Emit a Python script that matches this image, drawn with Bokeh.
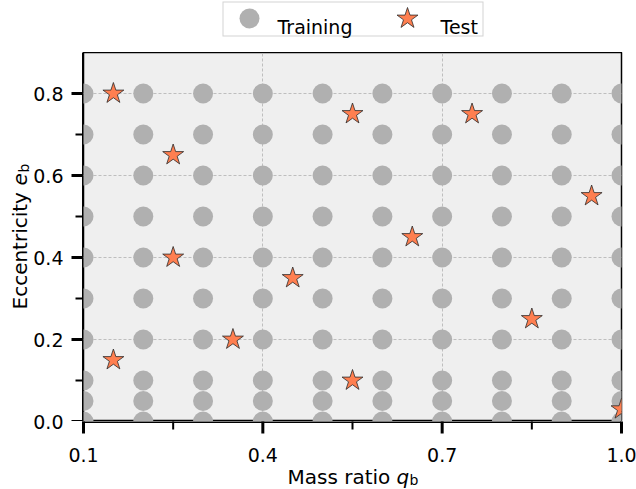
import math
from bokeh.plotting import figure
from bokeh.models import (FixedTicker, Range1d, Label, Grid, ColumnDataSource)
from bokeh.core.properties import value
from bokeh.layouts import column, row
from bokeh.embed import file_html
from bokeh.resources import INLINE

# ---- data ----
q_grid = [0.1, 0.2, 0.3, 0.4, 0.5, 0.6, 0.7, 0.8, 0.9, 1.0]
e_grid = [0.0, 0.05, 0.1, 0.2, 0.3, 0.4, 0.5, 0.6, 0.7, 0.8]

test_q = [0.15, 0.25, 0.25, 0.15, 0.35, 0.45, 0.55, 0.55, 0.65, 0.75, 0.85, 0.95, 1.0]
test_e = [0.80, 0.65, 0.40, 0.15, 0.20, 0.35, 0.75, 0.10, 0.45, 0.75, 0.25, 0.55, 0.03]

x_ticks = [0.1, 0.4, 0.7, 1.0]
x_minor = [0.25, 0.55, 0.85]
x_tick_labels = ["0.1", "0.4", "0.7", "1.0"]
y_ticks = [0.0, 0.2, 0.4, 0.6, 0.8]
y_minor = [0.1, 0.3, 0.5, 0.7]
y_tick_labels = ["0.0", "0.2", "0.4", "0.6", "0.8"]

series_names = ["Training", "Test"]
x_range_lim = (0.1, 1.0)
y_range_lim = (0.0, 0.9)

train_q = [q for q in q_grid for e in e_grid]
train_e = [e for q in q_grid for e in e_grid]

# ---- layout constants (pixels) ----
W, H = 636, 489
FL, FR, FT, FB = 83, 621, 52, 421      # plot frame edges
LW = 66                                # width of y-label strip
FONT = "DejaVu Sans"
TRAIN_STYLE = dict(marker="circle", size=20, fill_color="#b0b0b0", line_color=None)
TEST_STYLE = dict(marker="star", size=22, fill_color="#ff7f50",
                  line_color="#2b2b2b", line_width=0.8)

kq = (x_range_lim[1] - x_range_lim[0]) / (FR - FL)
ke = (y_range_lim[1] - y_range_lim[0]) / (FB - FT)


def drop_grids(f):
    f.center = [r for r in f.center if not isinstance(r, Grid)]


def blank(w, h, x_range=None, y_range=None):
    f = figure(width=w, height=h, output_backend="svg", toolbar_location=None,
               title=None,
               x_range=x_range or Range1d(0, w), y_range=y_range or Range1d(0, h),
               x_axis_location=None, y_axis_location=None, min_border=0)
    drop_grids(f)
    f.outline_line_color = None
    f.background_fill_color = "white"
    f.border_fill_color = "white"
    return f


def lab(f, x, y, text, size, style="normal", angle=0.0):
    f.add_layout(Label(x=x, y=y, text=text, text_font=FONT, text_font_size=size,
                       text_font_style=style, text_color="black",
                       text_align="left", text_baseline="alphabetic",
                       angle=angle))


# ---- main plot (frame only) ----
p = figure(width=W - FL, height=FB - FT, title=None,
           output_backend="svg", toolbar_location=None,
           x_range=Range1d(*x_range_lim), y_range=Range1d(*y_range_lim),
           x_axis_location=None, y_axis_location=None,
           min_border_left=0, min_border_top=0, min_border_bottom=0,
           min_border_right=W - FR)
drop_grids(p)
p.border_fill_color = "white"
p.background_fill_color = "#efefef"
p.outline_line_color = "black"
p.outline_line_width = 1.5
for dim, ticks in ((0, x_ticks), (1, y_ticks)):
    p.add_layout(Grid(dimension=dim, ticker=FixedTicker(ticks=ticks),
                      grid_line_color="#b8b8b8", grid_line_dash="3 2",
                      grid_line_width=0.9))

train_src = ColumnDataSource(dict(q=train_q, e=train_e))
test_src = ColumnDataSource(dict(q=test_q, e=test_e))
p.scatter("q", "e", source=train_src, **TRAIN_STYLE)
p.scatter("q", "e", source=test_src, **TEST_STYLE)

# ---- y tick strip (between labels and frame) ----
tw = FL - LW
tstrip = blank(tw, FB - FT, x_range=Range1d(0, tw), y_range=p.y_range)
tstrip.scatter(x=tw - 6, y=y_ticks, marker="dash", size=12, line_width=3,
               line_color="black", level="overlay")
tstrip.scatter(x=tw - 4, y=y_minor, marker="dash", size=8, line_width=2,
               line_color="black", level="overlay")
tstrip.quad(left=tw - 1.5, right=tw, bottom=y_range_lim[0], top=y_range_lim[1],
            fill_color="black", line_color=None, level="overlay")

# ---- left strip: y tick labels and y axis title ----
left = blank(LW, H)
left.extra_y_ranges = {"e": Range1d(y_range_lim[0] - (H - FB) * ke,
                                    y_range_lim[1] + FT * ke)}
left.text(x=[63] * len(y_ticks), y=y_ticks, text=y_tick_labels, y_range_name="e",
          text_font=value(FONT), text_font_size="19px", text_color="black",
          text_align="right", text_baseline="middle")
lab(left, 19.5, H - 309, "Eccentricity", "20px", angle=math.pi / 2)
lab(left, 19.5, H - 185, "e", "20px", "italic", angle=math.pi / 2)
lab(left, 23, H - 172, "b", "14px", angle=math.pi / 2)

# ---- bottom strip: x ticks, tick labels, x axis title ----
bw = W - LW
bh = H - FB
bottom = blank(bw, bh)
bottom.extra_x_ranges = {"q": Range1d(x_range_lim[0] - (FL - LW) * kq,
                                     x_range_lim[1] + (W - FR) * kq)}
bottom.scatter(x=x_ticks, y=bh - 6, marker="dash", angle=math.pi / 2, size=12,
               line_width=3, line_color="black", x_range_name="q", level="overlay")
bottom.scatter(x=x_minor, y=bh - 4, marker="dash", angle=math.pi / 2, size=8,
               line_width=2, line_color="black", x_range_name="q", level="overlay")
bottom.quad(left=x_range_lim[0] - 1.5 * kq, right=x_range_lim[1], top=bh,
            bottom=bh - 1.5, x_range_name="q", fill_color="black",
            line_color=None, level="overlay")
bottom.text(x=x_ticks, y=[bh - 33] * len(x_ticks), text=x_tick_labels,
            x_range_name="q", text_font=value(FONT), text_font_size="19px",
            text_color="black", text_align="center", text_baseline="alphabetic")
lab(bottom, 287 - LW, H - 476, "Mass ratio", "20px")
lab(bottom, 396 - LW, H - 476, "q", "20px", "italic")
lab(bottom, 409 - LW, H - 479, "b", "14px")

# ---- top strip: legend ----
top = blank(W - LW, FT)
top.quad(left=222 - LW, right=483 - LW, bottom=FT - 36, top=FT - 1,
         fill_color="#d3d3d3", line_color=None)
top.quad(left=223 - LW, right=482 - LW, bottom=FT - 35, top=FT - 2,
         fill_color="white", line_color=None)
top.scatter(x=[249 - LW], y=[FT - 18], **TRAIN_STYLE)
top.scatter(x=[407 - LW], y=[FT - 18], **TEST_STYLE)
lab(top, 277 - LW, FT - 26, series_names[0], "19px")
lab(top, 440 - LW, FT - 26, series_names[1], "19px")

layout = row(left, column(top, row(tstrip, p), bottom))

open("out.html", "w").write(file_html(layout, INLINE))
